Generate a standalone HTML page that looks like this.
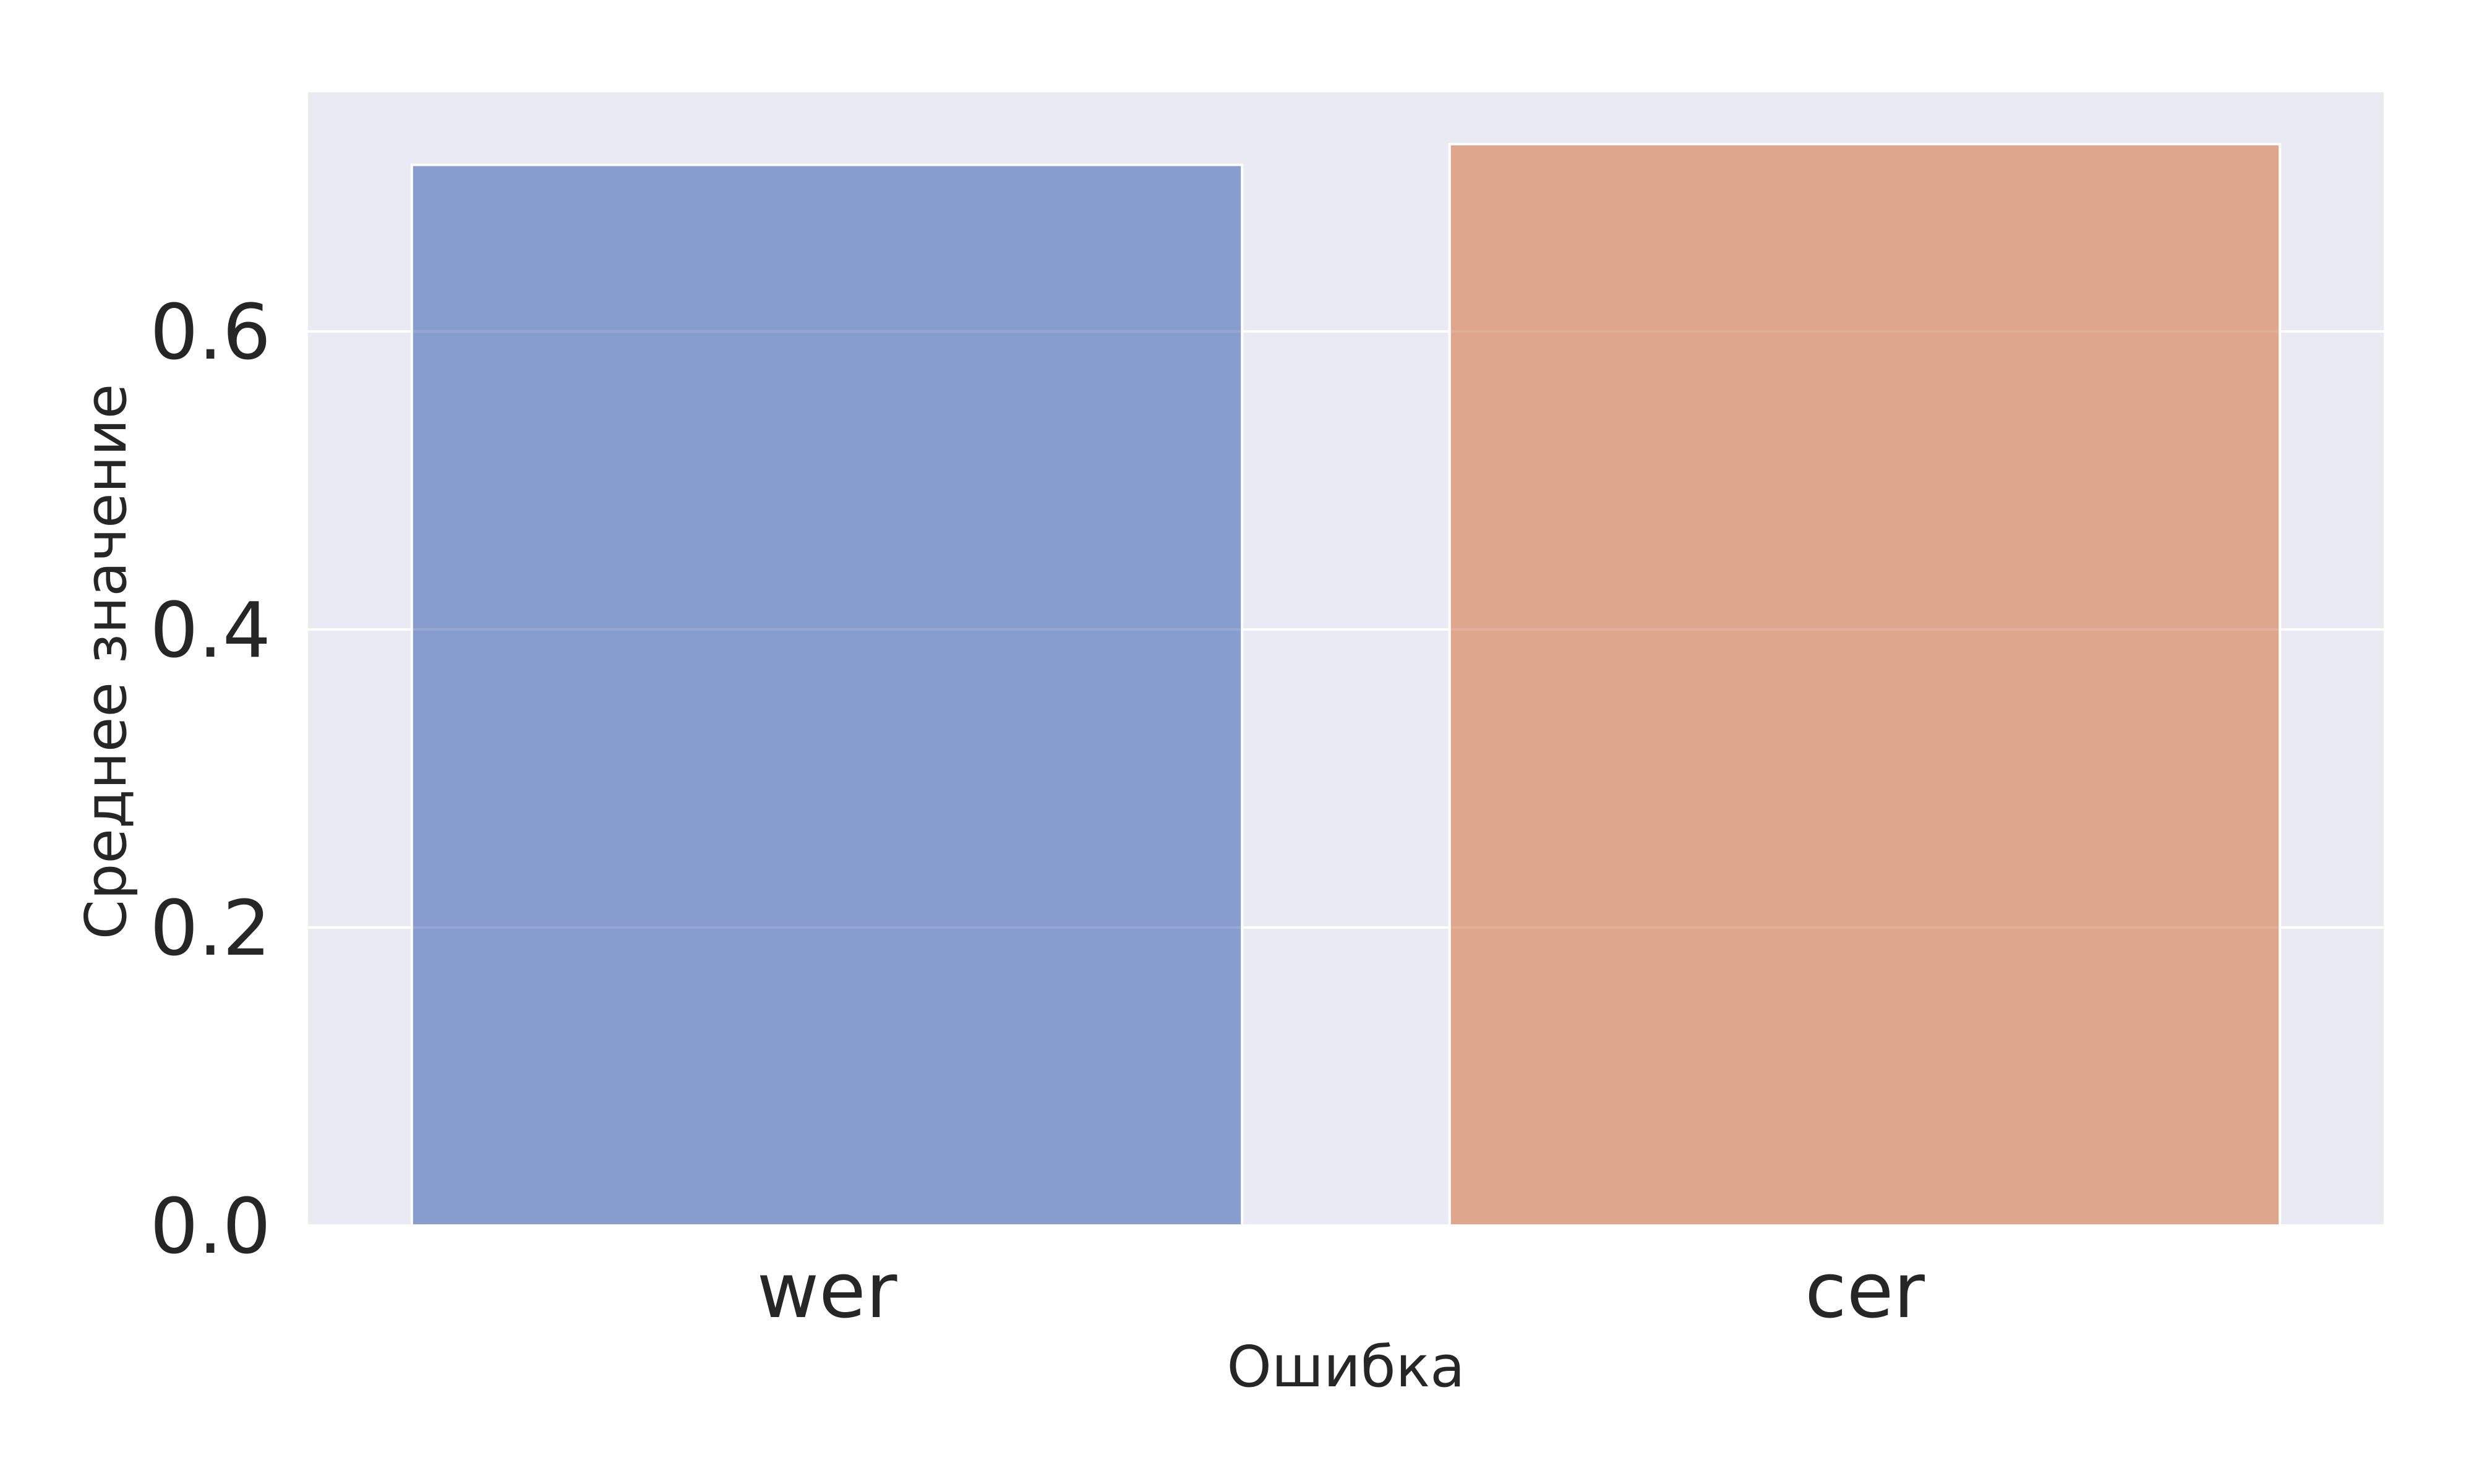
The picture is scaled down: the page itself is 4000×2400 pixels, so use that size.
<!DOCTYPE html>
<html><head><meta charset="utf-8"><style>
html,body{margin:0;padding:0;background:#fff}
svg{display:block}
text{font-family:"DejaVu Sans","Liberation Sans",sans-serif;fill:#262626}
</style></head><body>
<svg id="chart" width="4000" height="2400" viewBox="0 0 4000 2400" xmlns="http://www.w3.org/2000/svg">
<rect x="498" y="149" width="3356" height="1833" fill="#eaeaf2"/>
<g id="grid"></g>
<g id="bars"></g>
<g id="grid2"></g>
<g id="yticks"></g>
<g id="xticks"></g>
<text x="2176" y="2242" font-size="92" text-anchor="middle">Ошибка</text>
<text transform="translate(203,1070) rotate(-90)" font-size="92" text-anchor="middle">Среднее значение</text>
</svg>
<script>
const categories = ["wer", "cer"];
const values = [0.7118, 0.7257];
const yTicks = [0.0, 0.2, 0.4, 0.6];
const yTickLabels = ["0.0", "0.2", "0.4", "0.6"];
const colors = ["#869dcd", "#dea68a"];

const L = 498, R = 3854, T = 149, B = 1982;
const yMax = 0.7606;
const y = v => B - (v / yMax) * (B - T);
const band = (R - L) / categories.length;
const x = i => L + band * (i + 0.5);
const NS = "http://www.w3.org/2000/svg";
function mk(tag, attrs, parent) {
  const e = document.createElementNS(NS, tag);
  for (const k in attrs) e.setAttribute(k, attrs[k]);
  document.getElementById(parent).appendChild(e);
  return e;
}
yTicks.forEach((t, i) => {
  const g = mk("line", {x1: L, x2: R, y1: y(t), y2: y(t), stroke: "#ffffff", "stroke-width": 4}, "grid");
  
  
  const g2 = mk("line", {x1: L, x2: R, y1: y(t), y2: y(t), stroke: "#ffffff", "stroke-width": 4, "stroke-opacity": 0.12}, "grid2");
  
  
  const lbl = mk("text", {x: 438, y: y(t) + 44, "font-size": 123, "text-anchor": "end"}, "yticks");
  lbl.textContent = yTickLabels[i];
  
  
});
categories.forEach((c, i) => {
  const w = band * 0.8;
  const r = mk("rect", {x: x(i) - w / 2, y: y(values[i]), width: w, height: B - y(values[i]), fill: colors[i], stroke: "#ffffff", "stroke-width": 4}, "bars");
  
  
  const lbl = mk("text", {x: x(i), y: 2130, "font-size": 123, "text-anchor": "middle"}, "xticks");
  lbl.textContent = c;
  
  
});
</script>
</body></html>
